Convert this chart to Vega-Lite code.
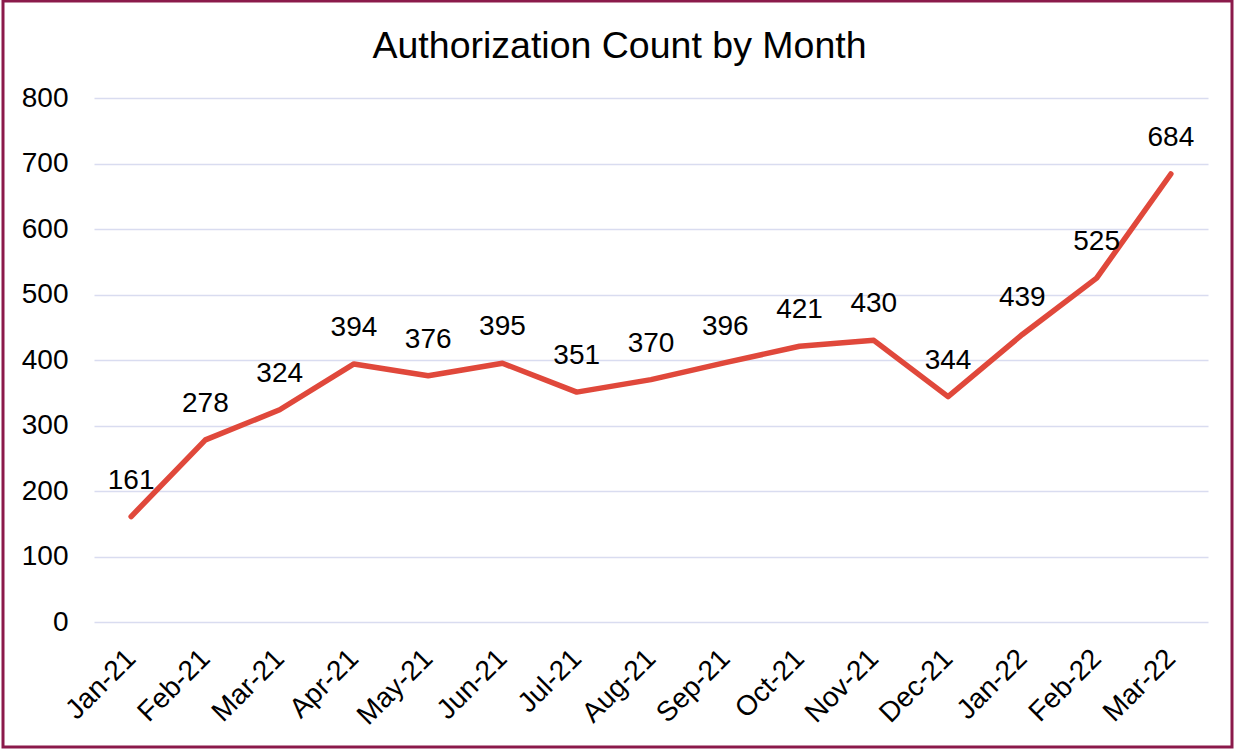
{
  "$schema": "https://vega.github.io/schema/vega-lite/v6.json",
  "width": 1229,
  "height": 746,
  "autosize": {"type": "none"},
  "padding": {"left": 3, "top": 1, "right": 4, "bottom": 2},
  "background": "white",
  "title": {
    "text": "Authorization Count by Month",
    "fontSize": 37.5,
    "font": "Liberation Sans",
    "fontWeight": "normal",
    "color": "black",
    "anchor": "middle",
    "frame": "group",
    "offset": -64,
    "dx": 2
  },
  "config": {
    "view": {"stroke": "#8B1A4B", "strokeWidth": 3, "fill": "white"}
  },
  "data": {
    "values": [
      {"month": "Jan-21", "count": 161},
      {"month": "Feb-21", "count": 278},
      {"month": "Mar-21", "count": 324},
      {"month": "Apr-21", "count": 394},
      {"month": "May-21", "count": 376},
      {"month": "Jun-21", "count": 395},
      {"month": "Jul-21", "count": 351},
      {"month": "Aug-21", "count": 370},
      {"month": "Sep-21", "count": 396},
      {"month": "Oct-21", "count": 421},
      {"month": "Nov-21", "count": 430},
      {"month": "Dec-21", "count": 344},
      {"month": "Jan-22", "count": 439},
      {"month": "Feb-22", "count": 525},
      {"month": "Mar-22", "count": 684}
    ]
  },
  "encoding": {
    "x": {
      "field": "month",
      "type": "nominal",
      "sort": null,
      "scale": {"type": "point", "padding": 0.5, "range": [91, 1205]},
      "axis": {
        "title": null,
        "labelAngle": -45,
        "labelAlign": "right",
        "labelBaseline": "middle",
        "labelFontSize": 28,
        "labelFont": "Liberation Sans",
        "labelColor": "black",
        "domain": false,
        "ticks": false,
        "grid": false,
        "labelPadding": 4,
        "offset": -97
      }
    },
    "y": {
      "field": "count",
      "type": "quantitative",
      "scale": {"domain": [0, 800], "nice": false, "range": [621, 97]},
      "axis": {
        "title": null,
        "values": [0, 100, 200, 300, 400, 500, 600, 700, 800],
        "grid": true,
        "gridColor": "#D9DCF0",
        "gridWidth": 1.5,
        "domain": false,
        "ticks": false,
        "labelFontSize": 28,
        "labelFont": "Liberation Sans",
        "labelColor": "black",
        "labelPadding": 4,
        "offset": -69
      }
    }
  },
  "layer": [
    {
      "mark": {"type": "line", "color": "#E0483B", "strokeWidth": 5.5, "strokeCap": "round", "strokeJoin": "round"}
    },
    {
      "mark": {"type": "text", "dy": -36, "fontSize": 28, "font": "Liberation Sans", "color": "black", "align": "center", "baseline": "middle"},
      "encoding": {"text": {"field": "count", "type": "quantitative"}}
    }
  ]
}
